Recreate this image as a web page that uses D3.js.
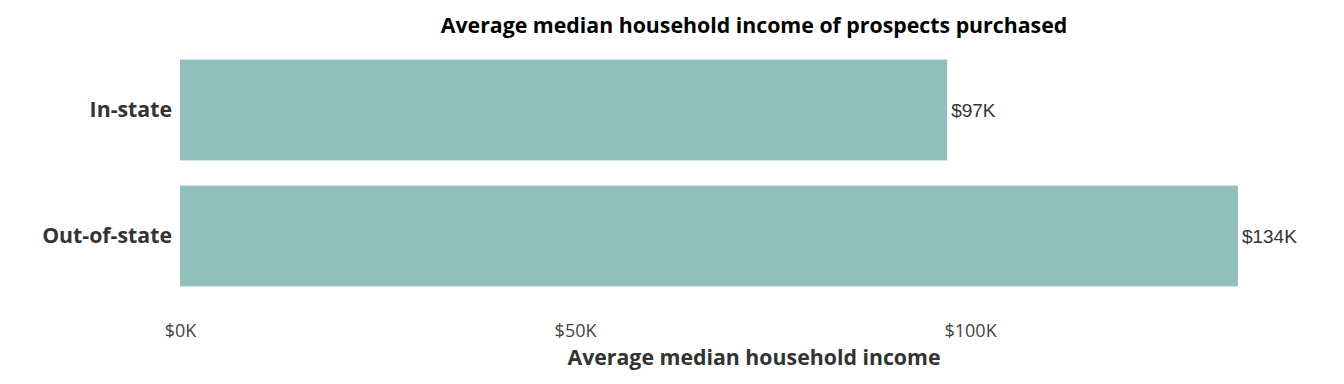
<!DOCTYPE html>
<html>
<head>
<meta charset="utf-8">
<script src="https://cdn.jsdelivr.net/npm/d3@7"></script>
<style>
  body { margin: 0; background: #fff; }
  svg { display: block; }
</style>
</head>
<body>
<svg id="chart" width="1344" height="384"></svg>
<script>
const categories = ['In-state', 'Out-of-state'];
const incomes = [97.1, 133.9];          // $K
const incomeLabels = ['$97K', '$134K'];
const tickValues = [0, 50, 100];

const svg = d3.select('#chart');
const left = 180, right = 1328;

const x = d3.scaleLinear()
    .domain([0, 145.3])
    .range([left, right]);

const y = d3.scaleBand()
    .domain(categories)
    .range([47, 299])
    .paddingInner(0.2)
    .paddingOuter(0.1);

// title
svg.append('text')
    .attr('x', (left + right) / 2)
    .attr('y', 33)
    .attr('text-anchor', 'middle')
    .style('font-family', '"Open Sans", sans-serif')
    .style('font-weight', 700)
    .style('font-size', '21.3px')
    .style('fill', '#000')
    .text('Average median household income of prospects purchased');

// bars
svg.append('g').selectAll('rect')
    .data(categories)
    .join('rect')
    .attr('x', x(0))
    .attr('y', d => y(d))
    .attr('width', (d, i) => x(incomes[i]) - x(0))
    .attr('height', y.bandwidth())
    .attr('fill', '#90bfbc');

// value labels
svg.append('g').selectAll('text')
    .data(categories)
    .join('text')
    .attr('x', (d, i) => x(incomes[i]) + 4)
    .attr('y', d => y(d) + y.bandwidth() / 2)
    .attr('dy', '0.35em')
    .style('font-family', '"Liberation Sans", Arial, sans-serif')
    .style('font-size', '19px')
    .style('fill', '#333')
    .text((d, i) => incomeLabels[i]);

// category labels
svg.append('g').selectAll('text')
    .data(categories)
    .join('text')
    .attr('x', left - 8)
    .attr('y', d => y(d) + y.bandwidth() / 2)
    .attr('dy', '0.35em')
    .attr('text-anchor', 'end')
    .style('font-family', '"Open Sans", sans-serif')
    .style('font-weight', 700)
    .style('font-size', '21.3px')
    .style('fill', '#333')
    .text(d => d);

// x axis
const xAxis = d3.axisBottom(x)
    .tickValues(tickValues)
    .tickSize(0)
    .tickFormat(d => '$' + d + 'K');

const ax = svg.append('g')
    .attr('transform', 'translate(0,321)')
    .call(xAxis);
ax.select('.domain').remove();
ax.selectAll('text')
    .style('font-family', '"Open Sans", sans-serif')
    .style('font-size', '18px')
    .style('font-weight', 400)
    .style('fill', '#444');

// axis title
svg.append('text')
    .attr('x', (left + right) / 2)
    .attr('y', 365)
    .attr('text-anchor', 'middle')
    .style('font-family', '"Open Sans", sans-serif')
    .style('font-weight', 700)
    .style('font-size', '21.3px')
    .style('fill', '#333')
    .text('Average median household income');
</script>
</body>
</html>
